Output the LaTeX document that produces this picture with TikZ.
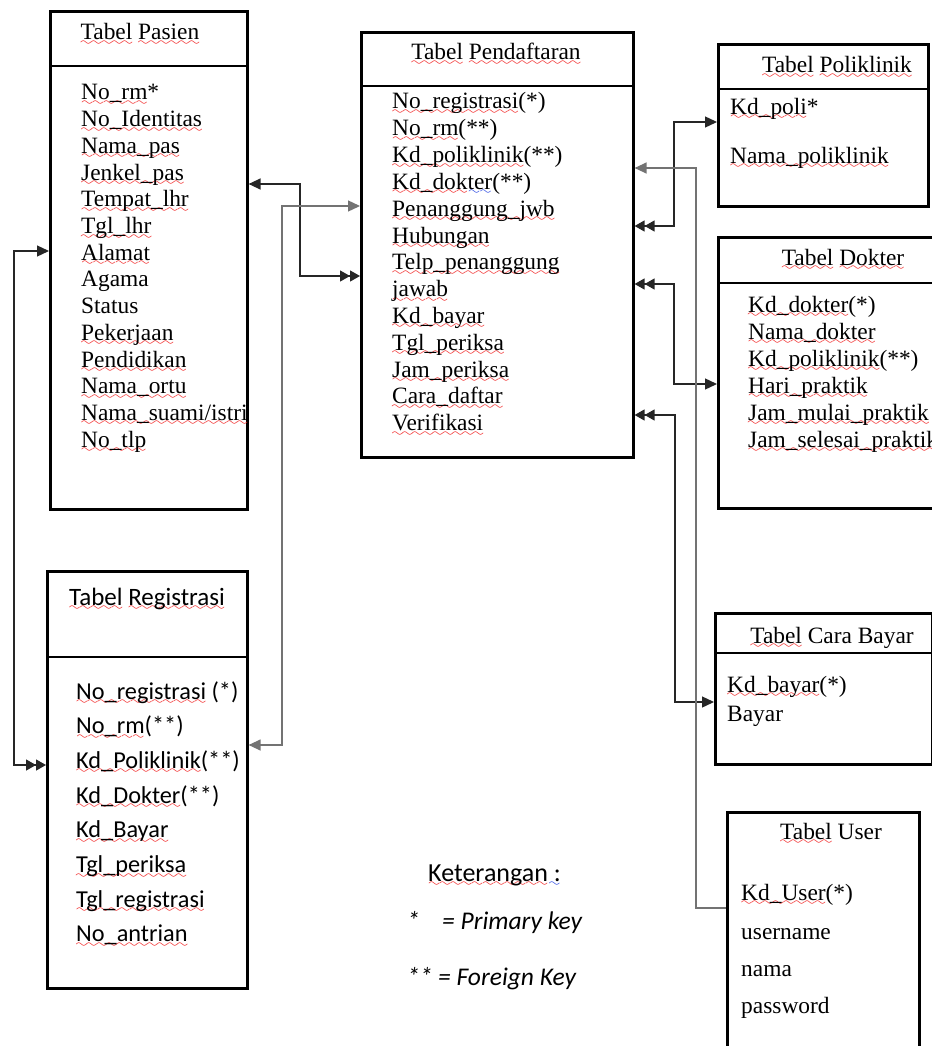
\documentclass[tikz,border=0pt]{standalone}
\usepackage{fontspec}
\setmainfont{Liberation Serif}
\newfontfamily\calibri{Carlito}
\usetikzlibrary{arrows.meta}
\definecolor{sqred}{HTML}{F01818}
\definecolor{sqblue}{HTML}{1F3FE0}
\font\sqwave=lasy6 at 12pt
\newcommand\wavy[2]{\setbox0\hbox{#2}\rlap{\lower5.5pt\hbox to\wd0{\color{#1}\xleaders\hbox{\sqwave\char58}\hfil}}\box0\relax}
\newcommand\sq[1]{\wavy{sqred}{#1}}
\newcommand\bq[1]{\wavy{sqblue}{#1}}
\tikzset{
  tbl/.style={draw, line width=2.6pt, inner sep=0pt, anchor=north west},
  divider/.style={line width=1.1pt},
  ttl/.style={anchor=base, inner sep=0pt, font=\fontsize{23.4}{27}\selectfont},
  fld/.style={anchor=base west, inner sep=0pt, font=\fontsize{23.4}{27}\selectfont},
  cttl/.style={anchor=base, inner sep=0pt, font=\calibri\fontsize{25}{29}\selectfont},
  cfld/.style={anchor=base west, inner sep=0pt, font=\calibri\fontsize{24.3}{28}\selectfont},
  lgd/.style={anchor=base west, inner sep=0pt, font=\calibri\itshape\fontsize{25.5}{29}\selectfont},
  conn/.style={line width=1.3pt, draw=black!85},
  conng/.style={line width=1.3pt, draw=black!55},
  sT/.tip={Triangle[length=12pt,width=11pt]},
  dT/.tip={Triangle[length=10pt,width=11pt] Triangle[length=10pt,width=11pt]},
}
\begin{document}
\begin{tikzpicture}[x=1pt,y=-1pt]
\useasboundingbox (0,0) rectangle (931,1046);

% ---------- tables ----------
\node[tbl, minimum width=197pt, minimum height=498pt] (pasien) at (49,10) {};
\node[tbl, minimum width=200pt, minimum height=417pt] (reg) at (46,570) {};
\node[tbl, minimum width=272pt, minimum height=425pt] (pend) at (360,31) {};
\node[tbl, minimum width=210pt, minimum height=162pt] (poli) at (717,43) {};
\node[tbl, minimum width=230pt, minimum height=271pt] (dok) at (717,236) {};
\node[tbl, minimum width=217pt, minimum height=151pt] (bayar) at (714,612) {};
\node[tbl, minimum width=192pt, minimum height=260pt] (user) at (726,811) {};

% dividers
\draw[divider] (pasien.west |- 0,66) -- (pasien.east |- 0,66);
\draw[divider] (reg.west |- 0,657) -- (reg.east |- 0,657);
\draw[divider] (pend.west |- 0,86) -- (pend.east |- 0,86);
\draw[divider] (poli.west |- 0,89) -- (poli.east |- 0,89);
\draw[divider] (dok.west |- 0,283) -- (dok.east |- 0,283);
\draw[divider] (bayar.west |- 0,653) -- (bayar.east |- 0,653);

% titles
\node[ttl] (tpas) at (140,40) {\sq{Tabel} \sq{Pasien}};
\node[cttl] (treg) at (147,605) {\sq{Tabel} \sq{Registrasi}};
\node[ttl] (tpend) at (496,60) {\sq{Tabel} \sq{Pendaftaran}};
\node[ttl] (tpoli) at (837,73) {\sq{Tabel} \sq{Poliklinik}};
\node[ttl] (tdok) at (843,265) {\sq{Tabel} \sq{Dokter}};
\node[ttl] (tbay) at (832,643) {\sq{Tabel} Cara Bayar};
\node[ttl] (tusr) at (831,839) {\sq{Tabel} User};

% fields
\foreach \t [count=\i from 0] in {{\sq{No\_rm}*},{\sq{No\_Identitas}},{\sq{Nama\_pas}},{\sq{Jenkel\_pas}},{\sq{Tempat\_lhr}},{\sq{Tgl\_lhr}},{\sq{Alamat}},{Agama},{Status},{\sq{Pekerjaan}},{\sq{Pendidikan}},{\sq{Nama\_ortu}},{\sq{Nama\_suami/istri}},{\sq{No\_tlp}}}
  \node[fld] (pas\i) at (81,100+26.7*\i) {\t};

\foreach \t [count=\i from 0] in {{\sq{No\_registrasi}(*)},{\sq{No\_rm}(**)},{\sq{Kd\_poliklinik}(**)},{\sq{Kd\_dok}\bq{ter}(**)},{\sq{Penanggung\_jwb}},{\sq{Hubungan}},{\sq{Telp\_penanggung}},{\sq{jawab}},{\sq{Kd\_bayar}},{\sq{Tgl\_periksa}},{\sq{Jam\_periksa}},{\sq{Cara\_daftar}},{\sq{Verifikasi}}}
  \node[fld] (pen\i) at (392,109+26.8*\i) {\t};

\node[fld] (pol0) at (730,114) {\sq{Kd\_poli}*};
\node[fld] (pol1) at (730,163) {\sq{Nama\_poliklinik}};

\foreach \t [count=\i from 0] in {{\sq{Kd\_dokter}(*)},{\sq{Nama\_dokter}},{\sq{Kd\_poliklinik}(**)},{\sq{Hari\_praktik}},{\sq{Jam\_mulai\_praktik}},{\sq{Jam\_selesai\_praktik}}}
  \node[fld] (dk\i) at (748,312+27*\i) {\t};

\node[fld] (by0) at (727,692) {\sq{Kd\_bayar}(*)};
\node[fld] (by1) at (727,721) {Bayar};

\node[fld] (us0) at (741,900) {\sq{Kd\_User}(*)};
\node[fld] (us1) at (741,939) {username};
\node[fld] (us2) at (741,976) {nama};
\node[fld] (us3) at (741,1013) {password};

\foreach \t [count=\i from 0] in {{\sq{No\_registrasi} (*)},{\sq{No\_rm}(**)},{\sq{Kd\_Poliklinik}(**)},{\sq{Kd\_Dokter}(**)},{\sq{Kd\_Bayar}},{\sq{Tgl\_periksa}},{\sq{Tgl\_registrasi}},{\sq{No\_antrian}}}
  \node[cfld] (rg\i) at (76,699+34.7*\i) {\t};

% legend
\node[lgd, font=\calibri\fontsize{26}{30}\selectfont] (ket) at (428,881) {\sq{Keterangan}\bq{\ :}};
\node[lgd] (pk1) at (407,929) {*};
\node[lgd] (pk2) at (442,929) {= Primary key};
\node[lgd] (fk1) at (407,985) {**};
\node[lgd] (fk2) at (438,985) {= Foreign Key};

% ---------- connectors ----------
\draw[conn, {sT}-{dT}] (pasien.east |- 0,184) -| (300,276) -- (pend.west |- 0,276);
\draw[conng, {sT}-{sT}] (reg.east |- 0,745) -| (282,206) -- (pend.west |- 0,206);
\draw[conn, {sT}-{dT}] (pasien.west |- 0,251) -| (14,765) -- (reg.west |- 0,765);
\draw[conn, {dT}-{sT}] (pend.east |- 0,226) -| (674,122) -- (poli.west |- 0,122);
\draw[conn, {dT}-{sT}] (pend.east |- 0,284) -| (674,384) -- (dok.west |- 0,384);
\draw[conn, {dT}-{sT}] (pend.east |- 0,415) -| (675,702) -- (bayar.west |- 0,702);
\draw[conng, {sT}-] (pend.east |- 0,168) -| (696,908) -- (user.west |- 0,908);
\end{tikzpicture}
\end{document}
